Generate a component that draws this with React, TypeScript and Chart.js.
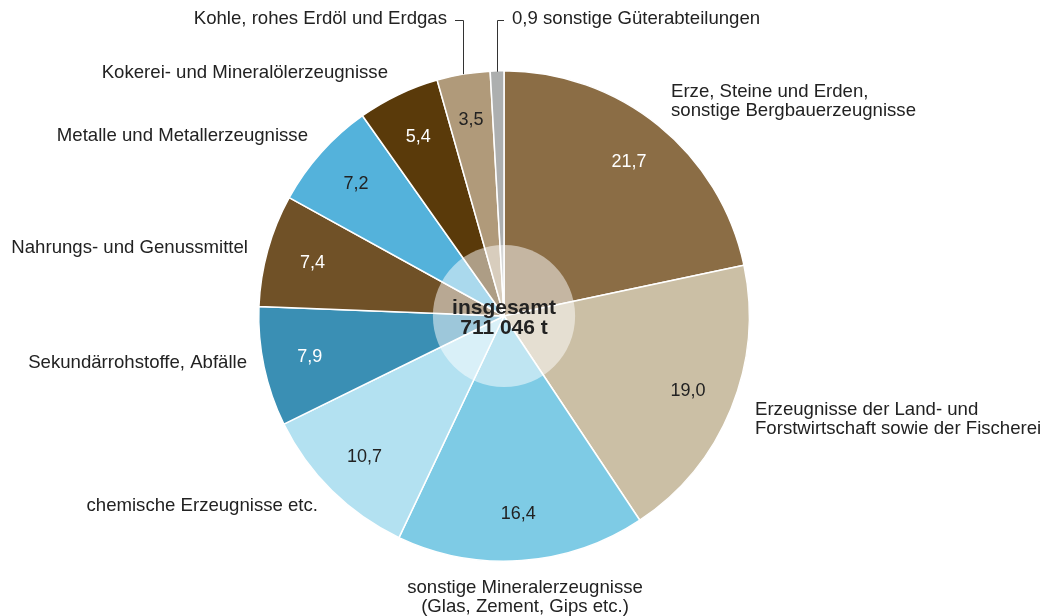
import React, { useEffect, useRef } from "react";
import { Chart, registerables } from "chart.js";

Chart.register(...registerables);

const categories = [
  "Erze, Steine und Erden, sonstige Bergbauerzeugnisse",
  "Erzeugnisse der Land- und Forstwirtschaft sowie der Fischerei",
  "sonstige Mineralerzeugnisse (Glas, Zement, Gips etc.)",
  "chemische Erzeugnisse etc.",
  "Sekundärrohstoffe, Abfälle",
  "Nahrungs- und Genussmittel",
  "Metalle und Metallerzeugnisse",
  "Kokerei- und Mineralölerzeugnisse",
  "Kohle, rohes Erdöl und Erdgas",
  "sonstige Güterabteilungen",
];
const values = [21.7, 19.0, 16.4, 10.7, 7.9, 7.4, 7.2, 5.4, 3.5, 0.9];
const valueLabels = ["21,7", "19,0", "16,4", "10,7", "7,9", "7,4", "7,2", "5,4", "3,5", ""];
const colors = [
  "#8b6d45", "#cbbfa5", "#7ecbe5", "#b3e1f1", "#3a8fb4",
  "#705127", "#54b2db", "#5a3a0a", "#b09a7a", "#adafaf",
];
const valueTextColors = [
  "#ffffff", "#222222", "#222222", "#222222", "#ffffff",
  "#ffffff", "#222222", "#ffffff", "#222222", "#222222",
];
const centerLines = ["insgesamt", "711 046 t"];

// outside label layout: lines, offset from pie centre, alignment
const outsideLabels = [
  { lines: ["Erze, Steine und Erden,", "sonstige Bergbauerzeugnisse"], dx: 167, dy: -224, align: "left" },
  { lines: ["Erzeugnisse der Land- und", "Forstwirtschaft sowie der Fischerei"], dx: 251, dy: 94, align: "left" },
  { lines: ["sonstige Mineralerzeugnisse", "(Glas, Zement, Gips etc.)"], dx: 21, dy: 272, align: "center" },
  { lines: ["chemische Erzeugnisse etc."], dx: -186, dy: 190, align: "right" },
  { lines: ["Sekundärrohstoffe, Abfälle"], dx: -257, dy: 47, align: "right" },
  { lines: ["Nahrungs- und Genussmittel"], dx: -256, dy: -68, align: "right" },
  { lines: ["Metalle und Metallerzeugnisse"], dx: -196, dy: -180, align: "right" },
  { lines: ["Kokerei- und Mineralölerzeugnisse"], dx: -116, dy: -243, align: "right" },
  { lines: ["Kohle, rohes Erdöl und Erdgas"], dx: -57, dy: -297, align: "right" },
  { lines: ["0,9 sonstige Güterabteilungen"], dx: 8, dy: -297, align: "left" },
];

const FONT = '"Liberation Sans", Arial, Helvetica, sans-serif';

const labelPlugin = {
  id: "customLabels",
  afterDatasetsDraw(chart: any) {
    const ctx = chart.ctx;
    const meta = chart.getDatasetMeta(0);
    const first = meta.data[0];
    const cx = first.x;
    const cy = first.y;
    const r = first.outerRadius;

    ctx.save();
    // value labels
    ctx.font = "18px " + FONT;
    ctx.textAlign = "center";
    ctx.textBaseline = "middle";
    meta.data.forEach((arc: any, i: number) => {
      if (!valueLabels[i]) return;
      const mid = (arc.startAngle + arc.endAngle) / 2;
      const rr = r * 0.81;
      ctx.fillStyle = valueTextColors[i];
      ctx.fillText(valueLabels[i], cx + Math.cos(mid) * rr, cy + Math.sin(mid) * rr);
    });

    // centre overlay
    const ir = r * 0.29;
    ctx.beginPath();
    ctx.arc(cx, cy, ir, 0, Math.PI * 2);
    ctx.fillStyle = "rgba(255,255,255,0.5)";
    ctx.fill();
    ctx.fillStyle = "#222222";
    ctx.font = "bold 21px " + FONT;
    ctx.fillText(centerLines[0], cx, cy - 8);
    ctx.fillText(centerLines[1], cx, cy + 12);

    // outside labels
    ctx.font = "18.6px " + FONT;
    ctx.fillStyle = "#222222";
    outsideLabels.forEach((l) => {
      ctx.textAlign = l.align;
      l.lines.forEach((line, k) => {
        ctx.fillText(line, cx + l.dx, cy + l.dy + k * 18.5);
      });
    });

    // bracket leader lines for the two small slices
    ctx.strokeStyle = "#333333";
    ctx.lineWidth = 1;
    const top = cy - r;
    const a8 = meta.data[8];
    const m8 = (a8.startAngle + a8.endAngle) / 2;
    const x8 = Math.round(cx + Math.cos(m8) * r) + 0.5;
    ctx.beginPath();
    ctx.moveTo(cx - 49, cy - 296 + 0.5);
    ctx.lineTo(x8, cy - 296 + 0.5);
    ctx.lineTo(x8, cy + Math.sin(m8) * r);
    ctx.stroke();
    const a9 = meta.data[9];
    const m9 = (a9.startAngle + a9.endAngle) / 2;
    const x9 = Math.round(cx + Math.cos(m9) * r) + 0.5;
    ctx.beginPath();
    ctx.moveTo(cx + 0, cy - 296 + 0.5);
    ctx.lineTo(x9, cy - 296 + 0.5);
    ctx.lineTo(x9, top + 1);
    ctx.stroke();
    ctx.restore();
  },
};

export default function App() {
  const ref = useRef<HTMLCanvasElement>(null);
  useEffect(() => {
    document.body.style.margin = "0";
    const chart = new Chart(ref.current!, {
      type: "pie",
      data: {
        labels: categories,
        datasets: [
          {
            data: values,
            backgroundColor: colors,
            borderColor: "#ffffff",
            borderWidth: 1.5,
          },
        ],
      },
      options: {
        responsive: false,
        animation: false,
        layout: { padding: { left: 258, right: 294, top: 70, bottom: 54 } },
        plugins: {
          legend: { display: false },
          tooltip: { enabled: false },
        },
      },
      plugins: [labelPlugin],
    });
    return () => chart.destroy();
  }, []);
  return (
    <div style={{ position: "absolute", left: 0, top: 0, width: 1044, height: 616, background: "#fff" }}>
      <canvas ref={ref} width={1044} height={616} />
    </div>
  );
}
